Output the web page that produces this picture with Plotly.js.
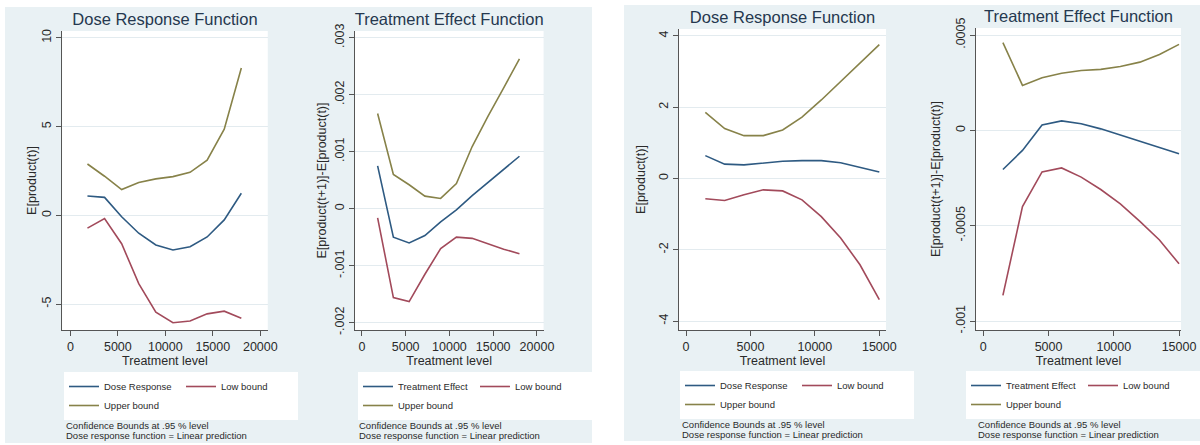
<!DOCTYPE html>
<html><head><meta charset="utf-8">
<script src="https://cdn.plot.ly/plotly-3.0.1.min.js"></script>
<style>
html,body{margin:0;padding:0;background:#ffffff;width:1200px;height:445px;overflow:hidden;}
.panel{position:absolute;}
</style></head><body>
<div id="p1" class="panel"></div>
<div id="p2" class="panel"></div>
<div id="p3" class="panel"></div>
<div id="p4" class="panel"></div>
<script>
// ---------- data ----------
const treatLeft = [1800, 3600, 5400, 7200, 9000, 10800, 12600, 14400, 16200, 18000];
const doseLeft  = [1.09, 1.01, -0.08, -1.01, -1.67, -1.95, -1.77, -1.22, -0.26, 1.24];
const lowLeft   = [-0.72, -0.18, -1.60, -3.85, -5.45, -6.05, -5.95, -5.55, -5.40, -5.80];
const upLeft    = [2.89, 2.20, 1.45, 1.85, 2.05, 2.18, 2.42, 3.10, 4.85, 8.30];

const effectLeft    = [0.00075, -0.00050, -0.00060, -0.00047, -0.00023, -0.00002, 0.00023, 0.00046, 0.00069, 0.00092];
const effLowLeft    = [-0.00016, -0.00156, -0.00163, -0.00115, -0.00070, -0.00050, -0.00052, -0.00062, -0.00071, -0.00079];
const effUpLeft     = [0.00167, 0.00060, 0.00042, 0.00022, 0.00018, 0.00044, 0.00109, 0.00162, 0.00212, 0.00263];

const treatRight = [1500, 3000, 4500, 6000, 7500, 9000, 10500, 12000, 13500, 15000];
const doseRight  = [0.64, 0.40, 0.38, 0.43, 0.48, 0.50, 0.50, 0.44, 0.32, 0.18];
const lowRight   = [-0.57, -0.62, -0.46, -0.32, -0.35, -0.60, -1.07, -1.67, -2.42, -3.40];
const upRight    = [1.85, 1.40, 1.20, 1.20, 1.36, 1.72, 2.20, 2.72, 3.22, 3.75];

const effectRight = [-0.000205, -0.000105, 0.000028, 0.000050, 0.000035, 0.000008, -0.000024, -0.000057, -0.000088, -0.000122];
const effLowRight = [-0.000865, -0.000400, -0.000218, -0.000197, -0.000245, -0.000310, -0.000385, -0.000477, -0.000575, -0.000700];
const effUpRight  = [0.000460, 0.000236, 0.000276, 0.000300, 0.000314, 0.000320, 0.000335, 0.000358, 0.000398, 0.000451];

// tick values / labels
const xTickValsLeft  = [0, 5000, 10000, 15000, 20000];
const xTickTextLeft  = ['0', '5000', '10000', '15000', '20000'];
const xTickValsRight = [0, 5000, 10000, 15000];
const xTickTextRight = ['0', '5000', '10000', '15000'];
const yTickValsDoseL = [-5, 0, 5, 10];
const yTickTextDoseL = ['-5', '0', '5', '10'];
const yTickValsEffL  = [-0.002, -0.001, 0, 0.001, 0.002, 0.003];
const yTickTextEffL  = ['-.002', '-.001', '0', '.001', '.002', '.003'];
const yTickValsDoseR = [-4, -2, 0, 2, 4];
const yTickTextDoseR = ['-4', '-2', '0', '2', '4'];
const yTickValsEffR  = [-0.001, -0.0005, 0, 0.0005];
const yTickTextEffR  = ['-.001', '-.0005', '0', '.0005'];

// text
const titleDose = 'Dose Response Function';
const titleEff  = 'Treatment Effect Function';
const yTitleDose = 'E[product(t)]';
const yTitleEff  = 'E[product(t+1)]-E[product(t)]';
const xTitle = 'Treatment level';
const nameDose = 'Dose Response';
const nameEff  = 'Treatment Effect';
const nameLow  = 'Low bound';
const nameUp   = 'Upper bound';
const note1 = 'Confidence Bounds at .95 % level';
const note2 = 'Dose response function = Linear prediction';

// ---------- styling ----------
const FONT = 'Liberation Sans, Arial, Helvetica, sans-serif';
const BG = '#e9f1f4';
const C_BLUE = '#2e5a82';
const C_RED  = '#a24a5b';
const C_OLIVE = '#878249';
const TXT = '#2a2a2a';
const TITLE_C = '#25384f';

function panel(id, P) {
  const el = document.getElementById(id);
  el.style.left = P.left + 'px';
  el.style.top = P.top + 'px';
  el.style.width = P.width + 'px';
  el.style.height = P.height + 'px';
  const m = {l: 2, r: 2, t: P.plot[2] - P.top, b: P.top + P.height - P.plot[3], pad: 0};
  const gsw = P.width - m.l - m.r, gsh = P.height - m.t - m.b;
  const px = X => (X - P.left - m.l) / gsw;
  const py = Y => 1 - (Y - P.top - m.t) / gsh;
  const dom = [px(P.plot[0]), px(P.plot[1])];

  const traces = [
    {x: P.x, y: P.main, name: P.mainName, type: 'scatter', mode: 'lines',
     line: {color: C_BLUE, width: 1.6}},
    {x: P.x, y: P.low, name: nameLow, type: 'scatter', mode: 'lines',
     line: {color: C_RED, width: 1.6}},
    {x: P.x, y: P.up, name: nameUp, type: 'scatter', mode: 'lines',
     line: {color: C_OLIVE, width: 1.6}}
  ];

  const layout = {
    width: P.width, height: P.height,
    margin: m,
    paper_bgcolor: BG, plot_bgcolor: '#ffffff',
    font: {family: FONT, color: TXT, size: 12},
    title: {text: P.title, font: {family: FONT, size: 16.5, color: TITLE_C},
            x: (dom[0] + dom[1]) / 2, xref: 'paper', xanchor: 'center',
            y: py(P.titleY), yref: 'paper', yanchor: 'middle'},
    showlegend: true,
    legend: {orientation: 'h', x: px(P.legX), y: py(P.legY), xanchor: 'left', yanchor: 'top',
             bgcolor: '#ffffff', borderwidth: 0, font: {family: FONT, size: 9.5, color: TXT},
             traceorder: 'normal', itemwidth: 30, entrywidth: P.entry, entrywidthmode: 'pixels'},
    xaxis: {domain: dom, range: P.xr, tickvals: P.xtv, ticktext: P.xtt,
            showline: true, linecolor: '#555', linewidth: 1, mirror: false,
            ticks: 'outside', ticklen: 5, tickcolor: '#555', showgrid: false, zeroline: false,
            tickfont: {size: 12.5, color: TXT}, ticklabeloverflow: 'allow',
            title: {text: xTitle, font: {size: 12.5, color: TXT}, standoff: 0}},
    yaxis: {domain: [0, 1], range: P.yr, tickvals: P.ytv, ticktext: P.ytt, tickangle: -90,
            showline: true, linecolor: '#555', linewidth: 1, mirror: false,
            ticks: 'outside', ticklen: 5, tickcolor: '#555', showgrid: true, gridcolor: '#e3ebef',
            gridwidth: 1, zeroline: false,
            tickfont: {size: 12.5, color: TXT}, ticklabeloverflow: 'allow',
            title: {text: P.ytitle, font: {size: 12.5, color: TXT}, standoff: P.ystand}},
    annotations: [
      {text: note1, xref: 'paper', yref: 'paper', x: px(P.noteX), y: py(P.noteY1), xanchor: 'left', yanchor: 'middle',
       showarrow: false, font: {size: 9.5, color: TXT}, borderpad: 0},
      {text: note2, xref: 'paper', yref: 'paper', x: px(P.noteX), y: py(P.noteY2), xanchor: 'left', yanchor: 'middle',
       showarrow: false, font: {size: 9.5, color: TXT}, borderpad: 0}
    ]
  };
  Plotly.newPlot(el, traces, layout, {staticPlot: true, displayModeBar: false});
}

panel('p1', {left: 5, top: 7, width: 293, height: 436, plot: [63.3, 273.3, 31, 330],
  x: treatLeft, main: doseLeft, low: lowLeft, up: upLeft, mainName: nameDose,
  title: titleDose, titleY: 18, ytitle: yTitleDose, ystand: 0,
  xr: [-866, 20784], yr: [-6.46, 10.38], xtv: xTickValsLeft, xtt: xTickTextLeft,
  ytv: yTickValsDoseL, ytt: yTickTextDoseL,
  legX: 68.3, legY: 372, entry: 72, noteX: 66, noteY1: 425, noteY2: 435});

panel('p2', {left: 298, top: 7, width: 294, height: 436, plot: [361, 571.7, 31, 330],
  x: treatLeft, main: effectLeft, low: effLowLeft, up: effUpLeft, mainName: nameEff,
  title: titleEff, titleY: 18, ytitle: yTitleEff, ystand: 3,
  xr: [-819, 20758], yr: [-0.002128, 0.003117], xtv: xTickValsLeft, xtt: xTickTextLeft,
  ytv: yTickValsEffL, ytt: yTickTextEffL,
  legX: 367, legY: 372, entry: 72, noteX: 365, noteY1: 425, noteY2: 435});

panel('p3', {left: 624, top: 5, width: 296, height: 436, plot: [679, 886, 29, 330],
  x: treatRight, main: doseRight, low: lowRight, up: upRight, mainName: nameDose,
  title: titleDose, titleY: 15, ytitle: yTitleDose, ystand: 8,
  xr: [-543, 15519], yr: [-4.25, 4.19], xtv: xTickValsRight, xtt: xTickTextRight,
  ytv: yTickValsDoseR, ytt: yTickTextDoseR,
  legX: 680, legY: 371, entry: 72, noteX: 681, noteY1: 424, noteY2: 434});

panel('p4', {left: 920, top: 5, width: 280, height: 436, plot: [976, 1181, 28, 330],
  x: treatRight, main: effectRight, low: effLowRight, up: effUpRight, mainName: nameEff,
  title: titleEff, titleY: 16, ytitle: yTitleEff, ystand: 10,
  xr: [-563, 15151], yr: [-0.001047, 0.000537], xtv: xTickValsRight, xtt: xTickTextRight,
  ytv: yTickValsEffR, ytt: yTickTextEffR,
  legX: 980, legY: 371, entry: 72, noteX: 977, noteY1: 424, noteY2: 434});
</script>
</body></html>
